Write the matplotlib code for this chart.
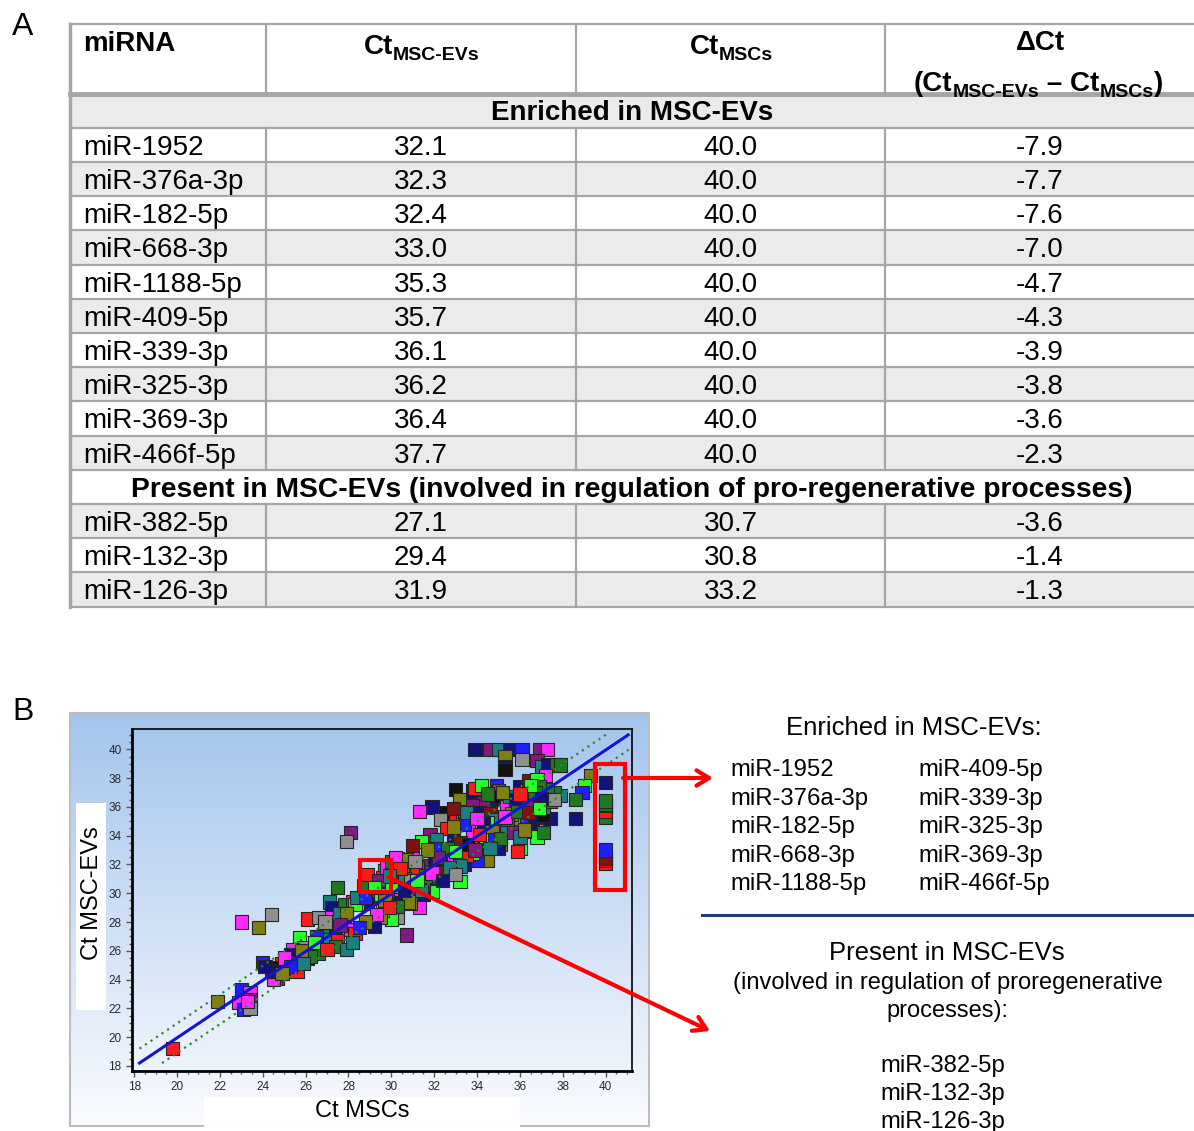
import numpy as np
import matplotlib.pyplot as plt
from matplotlib.patches import Rectangle

plt.rcParams['font.family'] = ['Liberation Sans', 'DejaVu Sans']

#%% table data (panel A)
enriched_mirna = ['miR-1952', 'miR-376a-3p', 'miR-182-5p', 'miR-668-3p', 'miR-1188-5p',
                  'miR-409-5p', 'miR-339-3p', 'miR-325-3p', 'miR-369-3p', 'miR-466f-5p']
enriched_ct_evs = [32.1, 32.3, 32.4, 33.0, 35.3, 35.7, 36.1, 36.2, 36.4, 37.7]
enriched_ct_mscs = [40.0] * 10
enriched_delta = [-7.9, -7.7, -7.6, -7.0, -4.7, -4.3, -3.9, -3.8, -3.6, -2.3]

present_mirna = ['miR-382-5p', 'miR-132-3p', 'miR-126-3p']
present_ct_evs = [27.1, 29.4, 31.9]
present_ct_mscs = [30.7, 30.8, 33.2]
present_delta = [-3.6, -1.4, -1.3]

#%% scatter data (panel B): Ct MSCs, Ct MSC-EVs, colour code
ms_ct = [33.9, 34.6, 35.0, 35.5, 36.1, 36.9, 37.3,
         35.3, 35.3, 35.3, 36.1, 36.8, 37.0, 37.3, 37.7, 37.9, 37.2,
         39.3, 39.0, 38.9, 38.6, 38.6, 37.9, 37.6, 37.3,
         33.0, 33.2, 33.3, 33.8, 33.9, 34.2, 34.9, 35.0, 34.8, 35.1, 35.4, 35.8, 35.5, 36.0,
         36.3, 36.4, 36.8, 36.9, 37.1, 37.0, 36.5, 36.3, 35.9, 36.3, 37.0, 36.6, 36.8, 37.1,
         36.2, 36.0, 35.9, 35.3, 35.4, 35.1, 35.0, 34.3, 34.5, 34.0, 33.8, 33.4, 33.2, 33.8,
         34.3, 33.8, 34.1, 34.6, 34.2, 33.4, 32.7, 32.4, 31.9, 31.3, 32.3, 33.4, 32.6, 32.9,
         31.8, 31.4, 32.1, 32.9, 33.2, 33.5, 32.5, 32.6, 32.0, 32.9, 32.3, 32.0, 32.1, 31.8,
         32.5, 31.0, 31.0, 31.4, 31.2, 31.5, 31.9, 31.5, 31.5, 30.5, 30.3, 30.2, 30.7, 31.3,
         30.9, 30.3, 30.0, 29.6, 29.5, 29.2, 29.1, 28.7, 29.4, 28.9, 29.7, 29.6, 30.2, 30.3,
         30.5, 29.8, 29.5, 28.9, 28.7, 28.8,
         28.1, 27.9, 28.4, 27.5, 27.1, 27.2, 27.8, 28.2, 28.3, 26.1, 26.6, 27.2, 27.8, 27.6,
         27.9, 26.9, 26.5, 25.7, 28.1, 28.3, 27.4, 27.1, 27.5, 27.4, 27.9, 28.2, 25.9, 25.4,
         26.6, 26.1, 25.3, 25.2, 24.9, 24.7, 24.7, 24.5, 24.4, 25.6, 24.0, 24.4, 23.8, 23.0,
         23.0, 23.4, 23.4, 22.9, 23.1, 23.4, 23.3, 21.9, 19.8,
         28.4, 28.8, 29.7, 30.0, 29.4, 29.2, 29.8, 30.2, 30.6, 30.9, 31.2, 30.8, 31.4, 30.8,
         30.0, 30.2,
         37.4, 36.7, 37.1, 36.1, 35.6, 35.4, 34.8, 34.5, 34.3, 34.7, 34.4, 34.8, 35.1, 35.7,
         36.0, 36.2, 37.1, 37.4, 36.3, 35.8, 36.7, 37.0, 36.5,
         30.7, 30.8, 33.2, 24.1, 25.0, 26.2, 25.8,
         31.6, 31.9, 32.2, 32.7, 33.0, 33.6, 33.9, 34.1, 34.6, 35.3, 35.9, 36.4, 36.9, 37.6,
         36.0, 35.2, 34.5, 33.5, 32.9, 31.7, 31.1, 30.6, 30.3, 29.9, 29.3, 28.8, 28.5, 27.6,
         26.9, 26.4, 25.9, 25.3, 24.9, 27.0, 32.4, 33.0, 31.2, 30.4, 29.9, 34.0]
ev_ct = [40.0, 40.0, 40.0, 40.0, 40.0, 40.0, 40.0,
         39.5, 38.8, 38.6, 39.3, 39.2, 38.8, 38.9, 38.9, 38.9, 38.2,
         38.2, 37.5, 37.0, 36.5, 35.2, 36.8, 37.0, 37.2,
         37.2, 36.5, 35.7, 37.1, 37.3, 37.5, 37.5, 37.1, 36.5, 36.7, 36.0, 36.1, 36.7, 37.4,
         37.1, 37.8, 37.9, 37.4, 36.3, 36.0, 36.5, 36.4, 35.2, 35.1, 34.8, 34.4, 33.9, 34.2,
         34.3, 33.1, 32.9, 34.3, 34.6, 33.4, 33.1, 33.1, 32.3, 32.3, 32.8, 32.0, 30.8, 34.3,
         36.3, 36.1, 35.6, 35.5, 34.8, 35.1, 35.3, 35.6, 36.0, 35.7, 35.1, 34.8, 34.5, 33.9,
         34.1, 33.6, 33.7, 34.6, 33.5, 32.6, 32.8, 33.1, 33.1, 32.3, 31.9, 32.1, 31.1, 31.6,
         31.4, 32.6, 33.3, 31.9, 31.8, 30.7, 30.1, 29.9, 30.6, 31.6, 32.4, 32.1, 32.3, 29.0,
         29.3, 28.3, 28.2, 28.8, 28.3, 27.7, 29.7, 30.5, 30.9, 31.3, 31.6, 31.1, 29.6, 30.3,
         30.5, 30.1, 29.9, 29.3, 29.7, 29.7,
         34.2, 33.6, 29.3, 30.4, 29.4, 29.0, 29.2, 29.4, 29.2, 28.2, 28.3, 28.3, 28.2, 28.6,
         28.6, 27.5, 27.0, 26.9, 27.5, 27.2, 27.0, 26.8, 26.7, 26.3, 26.1, 26.6, 26.2, 26.1,
         25.8, 25.5, 25.7, 25.2, 25.1, 24.8, 24.1, 24.0, 24.6, 24.6, 25.2, 28.5, 27.6, 28.0,
         23.3, 23.1, 22.6, 22.4, 21.9, 22.0, 22.5, 22.5, 19.2,
         29.7, 29.7, 29.5, 30.5, 30.9, 30.4, 31.8, 31.3, 31.0, 30.9, 30.6, 29.6, 30.2, 29.9,
         32.2, 32.5,
         35.2, 35.3, 35.4, 35.9, 35.5, 35.1, 35.1, 34.9, 34.8, 34.3, 33.7, 33.7, 33.8, 34.2,
         33.9, 34.4, 36.0, 36.4, 36.2, 36.5, 37.0, 36.6, 37.5,
         27.1, 29.4, 31.9, 24.9, 25.5, 25.6, 26.0,
         31.2, 31.4, 32.5, 31.8, 32.9, 33.4, 33.0, 34.1, 33.1, 35.3, 35.7, 35.6, 35.9, 36.5,
         36.9, 37.0, 36.9, 35.6, 35.9, 33.0, 32.2, 30.2, 29.1, 29.0, 28.5, 28.0, 27.6, 27.8,
         28.0, 26.6, 25.1, 24.9, 24.4, 26.1, 30.9, 31.3, 30.9, 31.7, 31.2, 35.2]
pt_color = list('NPTNBPM'
                'ONKYPTNGGM'
                'OLBGNTGG'
                'KOONRLBRNKMRTN'
                'YWLGMNKRYBLNLG'
                'LLRLTONGOBLNLM'
                'PPNWYLRKNMYBRN'
                'PLTOWRKGBMKNBK'
                'WMWPRTLNPONLOM'
                'OYLLONRGTRMRNM'
                'TPLNYR'
                'PYLGTNGRLRYMKT'
                'OGBLMRNTRGTTYM'
                'GKNPRKPMNRBYOM'
                'BMPMBYMOR'
                'TBOLPLMBTYOOTP'
                'GM'
                'NNKTOGTLNOLBGP'
                'TOTRPNGNL'
                'POTNMGO'
                'GMPTLKPRTMGWLYROGTWOYNGRMOBPYLTBORNYLRTM')
palette = {'R': '#ff1a1a', 'B': '#1f1fff', 'N': '#12127a', 'L': '#2aff2a',
           'G': '#1f7a1f', 'M': '#ff2aff', 'P': '#7f1a7f', 'O': '#7f7f14',
           'T': '#1a7f7f', 'Y': '#8f8f8f', 'K': '#111111', 'W': '#7f1212'}
enriched_colors = list('RRWBGRRGGN')

# regression line and +/- 1 Ct band
fit_x, fit_y = [18.25, 41.05], [18.2, 41.0]
upper_x, upper_y = [18.25, 40.1], [19.2, 41.1]
lower_x, lower_y = [19.3, 41.1], [18.2, 40.0]

W, H = 1194, 1131
fig = plt.figure(figsize=(W / 100, H / 100), dpi=100)

# background / table axes in pixel coordinates
bg = fig.add_axes([0, 0, 1, 1], zorder=0)
bg.set_xlim(0, W)
bg.set_ylim(H, 0)
bg.axis('off')

#%% panel A: table
line_c = '#a6a6a6'
gray_row = '#ebebeb'
cols = [70, 266, 576, 885, W]
centers = [(cols[i] + cols[i + 1]) / 2 for i in range(1, 4)]
fs_tab = 20
y_top, y_head, y_sec = 24, 93.5, 127.7
row_h = 34.2

body = [(m, a, b, d) for m, a, b, d in zip(enriched_mirna, enriched_ct_evs, enriched_ct_mscs, enriched_delta)]
body.append('Present in MSC-EVs (involved in regulation of pro-regenerative processes)')
body += [(m, a, b, d) for m, a, b, d in zip(present_mirna, present_ct_evs, present_ct_mscs, present_delta)]

bg.add_patch(Rectangle((cols[0], y_head), W - cols[0], y_sec - y_head, fc=gray_row, ec='none'))
bg.text(632, (y_head + y_sec) / 2 + 2.5, 'Enriched in MSC-EVs', ha='center', va='center',
        fontsize=fs_tab, fontweight='bold')
for i, row in enumerate(body):
    top = y_sec + i * row_h
    yc = top + row_h / 2 + 3
    if i % 2 == 1:
        bg.add_patch(Rectangle((cols[0], top), W - cols[0], row_h, fc=gray_row, ec='none'))
    if isinstance(row, str):
        bg.text(632, yc, row, ha='center', va='center', fontsize=20.3, fontweight='bold')
        continue
    bg.text(83, yc, row[0], ha='left', va='center', fontsize=fs_tab)
    for cx, v in zip(centers, row[1:]):
        bg.text(cx, yc, f'{v:.1f}', ha='center', va='center', fontsize=fs_tab)
    for cx in cols[1:4]:
        bg.plot([cx, cx], [top, top + row_h], color=line_c, lw=1.6)

y_bottom = y_sec + len(body) * row_h
for k in range(len(body) + 1):
    y = y_sec + k * row_h
    bg.plot([cols[0], W], [y, y], color=line_c, lw=1.6)
bg.plot([cols[0], W], [y_top, y_top], color=line_c, lw=1.6)
bg.plot([cols[0], W], [y_head, y_head], color=line_c, lw=3.5)
for cx in cols[1:4]:
    bg.plot([cx, cx], [y_top, y_head], color=line_c, lw=1.6)
bg.plot([cols[0], cols[0]], [y_top, y_bottom], color=line_c, lw=2.5)

# header with subscripts
def chain(x, y, parts, fs=20, fs_sub=14):
    prev = None
    for txt, sub in parts:
        f = fs_sub if sub else fs
        if prev is None:
            prev = bg.text(x, y, txt, fontsize=f, fontweight='bold', ha='left', va='bottom')
        else:
            dy = -4 if sub else 4
            prev = bg.annotate(txt, xy=(1, 0), xycoords=prev, xytext=(0, dy),
                               textcoords='offset pixels', fontsize=f, fontweight='bold',
                               ha='left', va='bottom')

bg.text(83, 44, 'miRNA', fontsize=fs_tab, fontweight='bold', ha='left', va='center')
chain(364, 60, [('Ct', False), ('MSC-EVs', True)])
chain(690, 60, [('Ct', False), ('MSCs', True)])
bg.text(1040, 43, '\u0394Ct', fontsize=fs_tab, fontweight='bold', ha='center', va='center')
chain(914, 97, [('(Ct', False), ('MSC-EVs', True), (' \u2013 Ct', False), ('MSCs', True), (')', False)])

bg.text(12, 27, 'A', fontsize=23, ha='left', va='center')
bg.text(12, 712, 'B', fontsize=23, ha='left', va='center')

#%% panel B background
grad = np.linspace(0, 1, 256)[:, None, None]
c_top = np.array([0.64, 0.77, 0.93])
c_bot = np.array([0.98, 0.985, 0.995])
img = c_top + (c_bot - c_top) * grad
bg.imshow(img, extent=[70, 649, 1126, 713], aspect='auto', zorder=0)
bg.add_patch(Rectangle((70, 713), 579, 413, fill=False, ec='#bdbdbd', lw=1.5, zorder=1))
bg.add_patch(Rectangle((76, 803), 30, 207, fc='white', ec='none', zorder=1))
bg.add_patch(Rectangle((204, 1097), 316, 30, fc='white', ec='none', zorder=1))
bg.set_xlim(0, W)
bg.set_ylim(H, 0)

# right-hand text
fs_list = 17.2
bg.text(914, 728, 'Enriched in MSC-EVs:', fontsize=18.5, ha='center', va='center')
left_col, right_col = enriched_mirna[:5], enriched_mirna[5:]
for i, (a, b) in enumerate(zip(left_col, right_col)):
    y = 770 + i * 28.6
    bg.text(730, y, a, fontsize=fs_list, ha='left', va='center')
    bg.text(918, y, b, fontsize=fs_list, ha='left', va='center')
bg.plot([702, W], [915, 915], color='#1f3a78', lw=2.2)
bg.text(947, 953, 'Present in MSC-EVs', fontsize=18.5, ha='center', va='center')
bg.text(948, 983, '(involved in regulation of proregenerative', fontsize=17, ha='center', va='center')
bg.text(947, 1011, 'processes):', fontsize=17, ha='center', va='center')
for i, m in enumerate(present_mirna):
    bg.text(943, 1066 + i * 28, m, fontsize=fs_list, ha='center', va='center')

#%% panel B scatter
ax = fig.add_axes([132 / W, 1 - 1070.7 / H, 500 / W, 341.4 / H], zorder=1)
ax.set_facecolor('none')
ax.scatter(ms_ct, ev_ct, s=92, marker='s', c=[palette[k] for k in pt_color],
           edgecolors='#252525', linewidths=0.8, zorder=3)
ax.scatter(enriched_ct_mscs, enriched_ct_evs, s=92, marker='s',
           c=[palette[k] for k in enriched_colors], edgecolors='#252525', linewidths=0.8, zorder=3)
ax.plot(fit_x, fit_y, color='#1414d2', lw=2.2, zorder=4)
ax.plot(upper_x, upper_y, color='#2f8a2f', lw=1.6, ls=(0, (1, 2)), zorder=4)
ax.plot(lower_x, lower_y, color='#2f8a2f', lw=1.6, ls=(0, (1, 2)), zorder=4)

ax.add_patch(Rectangle((39.52, 30.25), 1.38, 8.73, fill=False, ec='red', lw=3, zorder=6, clip_on=False))
ax.add_patch(Rectangle((28.52, 30.09), 1.47, 2.19, fill=False, ec='red', lw=3, zorder=6, clip_on=False))

ax.set_xlim(17.9, 41.23)
ax.set_ylim(17.67, 41.39)
ax.set_xticks(np.arange(18, 41, 2))
ax.set_yticks(np.arange(18, 41, 2))
ax.set_xticks(np.arange(18, 41.01, 0.5), minor=True)
ax.set_yticks(np.arange(18, 41.01, 0.5), minor=True)
ax.tick_params(which='both', direction='out', labelsize=8.5, labelcolor='#2a2a2a', color='#555555')
ax.tick_params(which='major', length=4, width=1)
ax.tick_params(which='minor', length=2.5, width=1)
ax.spines['left'].set_linewidth(2)
ax.spines['bottom'].set_linewidth(2)
ax.spines['top'].set_linewidth(1.2)
ax.spines['right'].set_linewidth(1.2)
ax.set_xlabel('Ct MSCs', fontsize=17)
ax.set_ylabel('Ct MSC-EVs', fontsize=17)
ax.xaxis.set_label_coords(0.46, -0.085)
ax.yaxis.set_label_coords(-0.058, 0.52)

#%% arrows on top
ov = fig.add_axes([0, 0, 1, 1], zorder=5)
ov.set_xlim(0, W)
ov.set_ylim(H, 0)
ov.axis('off')
aprops = dict(arrowstyle='->,head_length=0.9,head_width=0.55', color='red', lw=3,
              shrinkA=0, shrinkB=0)
ov.annotate('', xy=(713, 778), xytext=(623, 778), arrowprops=aprops)
ov.annotate('', xy=(710, 1031), xytext=(388, 877), arrowprops=aprops)

fig.savefig('out.png', dpi=100)
